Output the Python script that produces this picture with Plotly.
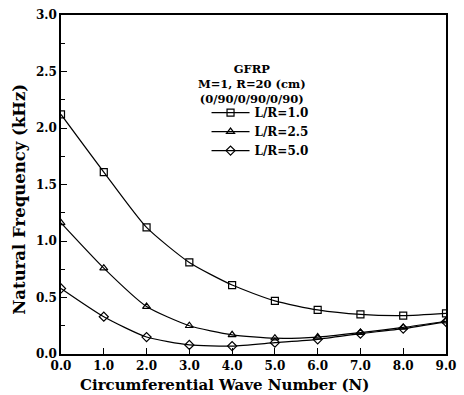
import plotly.graph_objects as go

N = [0, 1, 2, 3, 4, 5, 6, 7, 8, 9]
freq_LR10 = [2.12, 1.61, 1.12, 0.81, 0.61, 0.47, 0.39, 0.35, 0.34, 0.36]
freq_LR25 = [1.16, 0.76, 0.42, 0.25, 0.17, 0.14, 0.15, 0.19, 0.235, 0.29]
freq_LR50 = [0.58, 0.33, 0.15, 0.08, 0.07, 0.10, 0.13, 0.18, 0.225, 0.285]
x_ticks = [0, 1, 2, 3, 4, 5, 6, 7, 8, 9]
x_labels = ["0.0", "1.0", "2.0", "3.0", "4.0", "5.0", "6.0", "7.0", "8.0", "9.0"]
y_ticks = [0, 0.5, 1.0, 1.5, 2.0, 2.5, 3.0]
y_labels = ["0.0", "0.5", "1.0", "1.5", "2.0", "2.5", "3.0"]
header_lines = ["GFRP", "M=1, R=20 (cm)", "(0/90/0/90/0/90)"]

FONT = "DejaVu Serif"
series = [
    ("L/R=1.0", freq_LR10, "square-open"),
    ("L/R=2.5", freq_LR25, "triangle-up-open"),
    ("L/R=5.0", freq_LR50, "diamond-open"),
]

fig = go.Figure()
for name, vals, sym in series:
    fig.add_trace(go.Scatter(
        x=N, y=vals, name="<b>%s</b>" % name, mode="lines+markers",
        line=dict(color="black", width=1.2, shape="spline", smoothing=0.6),
        marker=dict(symbol=sym, size=7, color="black", line=dict(width=1.2, color="black")),
    ))

L, R, T, B = 61, 8, 13, 41
annotations = [
    dict(text="<b>Circumferential Wave Number (N)</b>", xref="paper", yref="paper",
         x=0.425, y=-0.09, xanchor="center", yanchor="middle", showarrow=False,
         font=dict(family=FONT, size=15)),
    dict(text="<b>Natural Frequency (kHz)</b>", xref="paper", yref="paper",
         x=-0.11, y=0.457, xanchor="center", yanchor="middle", showarrow=False,
         textangle=-90, font=dict(family=FONT, size=16.5)),
    dict(text="<br>".join("<b>%s</b>" % t for t in header_lines), xref="paper", yref="paper",
         x=0.495, y=0.797, xanchor="center", yanchor="middle", align="center",
         showarrow=False, font=dict(family=FONT, size=11.5)),
]

fig.update_layout(
    width=464, height=395,
    margin=dict(l=L, r=R, t=T, b=B),
    paper_bgcolor="white", plot_bgcolor="white",
    font=dict(family=FONT, color="black", size=12),
    showlegend=True,
    legend=dict(x=0.378, y=0.755, xanchor="left", yanchor="top",
                bgcolor="rgba(0,0,0,0)", font=dict(family=FONT, size=12),
                tracegroupgap=0, itemwidth=38),
    xaxis=dict(range=[0, 9], tickvals=x_ticks, ticktext=["<b>%s</b>" % t for t in x_labels],
               showline=True, linecolor="black", linewidth=1.5, mirror=True,
               ticks="inside", ticklen=6, tickcolor="black", showgrid=False, zeroline=False,
               ticklabeloverflow="allow",
               tickfont=dict(family=FONT, size=12)),
    yaxis=dict(range=[0, 3], tickvals=y_ticks, ticktext=["<b>%s</b>" % t for t in y_labels],
               showline=True, linecolor="black", linewidth=1.5, mirror=True,
               ticks="inside", ticklen=6, tickcolor="black", showgrid=False, zeroline=False,
               minor=dict(dtick=0.25, ticks="inside", ticklen=4, tickcolor="black"),
               tickfont=dict(family=FONT, size=12)),
    annotations=annotations,
)

fig.write_html("out.html")
